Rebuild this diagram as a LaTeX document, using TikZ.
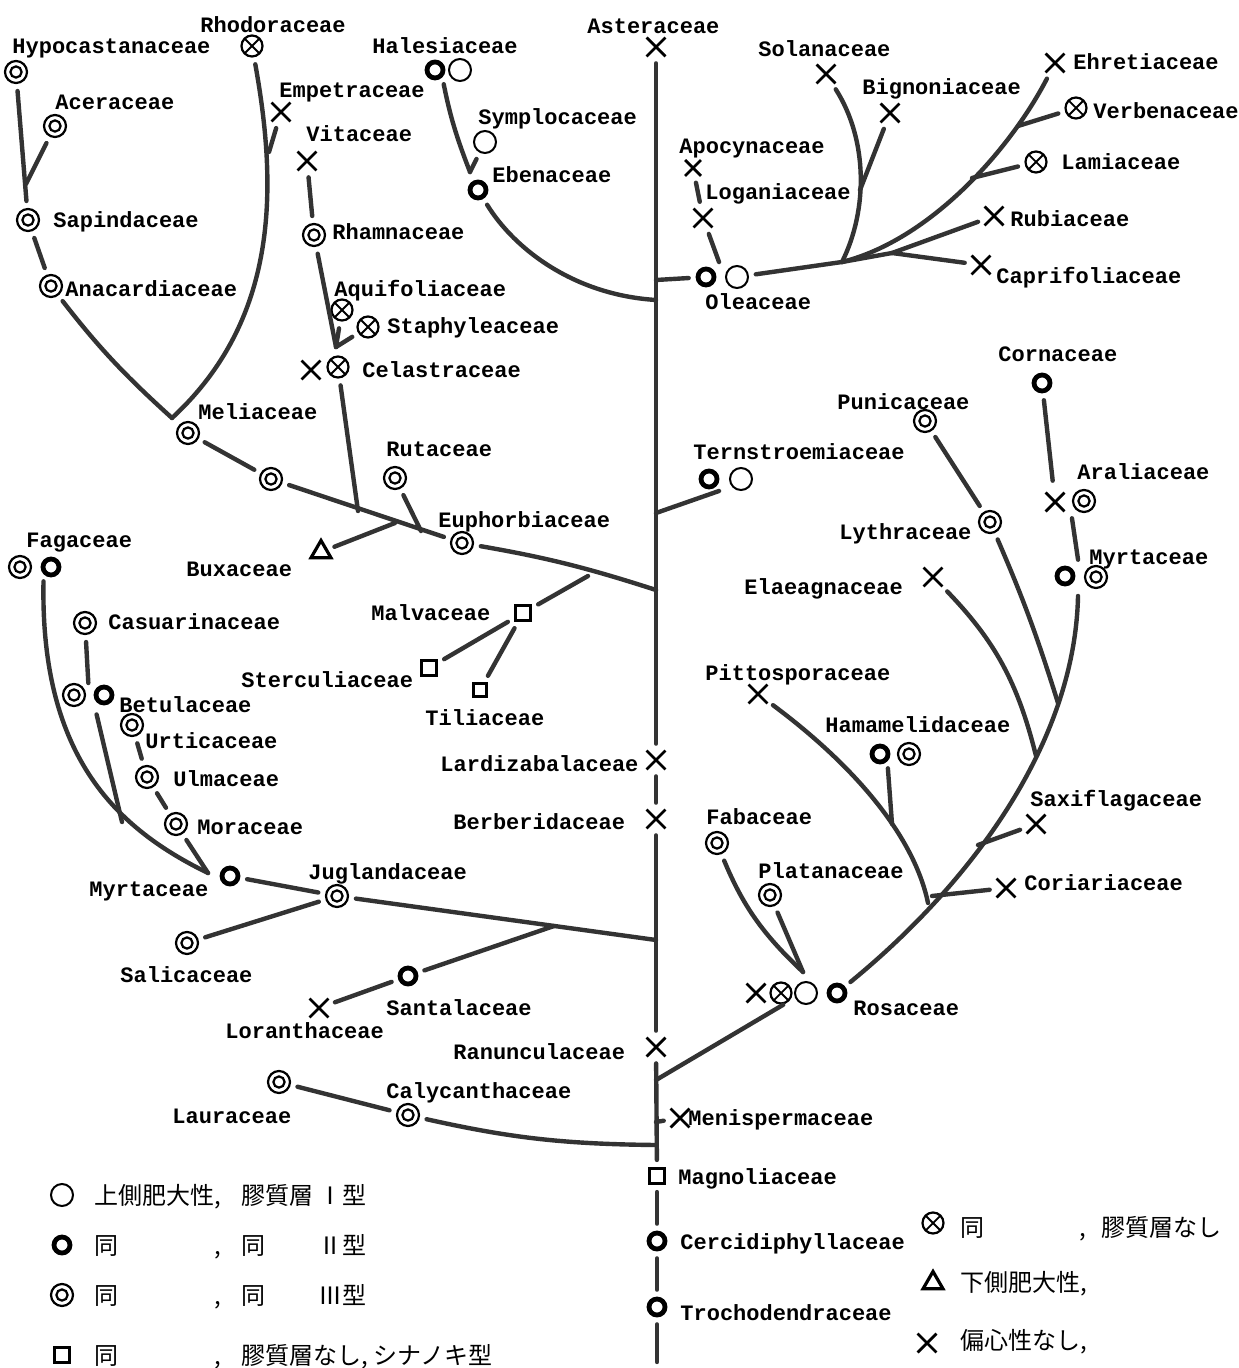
\documentclass[tikz,border=0pt]{standalone}
\usepackage{fontspec}
\setmonofont{Liberation Mono}
\newfontfamily\jp{Noto Sans CJK JP}
\usetikzlibrary{shapes.geometric,shapes.misc,calc}

\tikzset{
  tI/.style={circle, draw, line width=1pt, minimum size=11pt, inner sep=0pt},
  tII/.style={circle, draw, line width=2.4pt, minimum size=8pt, inner sep=0pt},
  tIII/.style={circle, draw, line width=1.1pt, minimum size=11pt, inner sep=0pt,
    path picture={\draw[line width=1.1pt] (path picture bounding box.center) circle (2.8pt);}},
  ox/.style={circle, draw, line width=1.1pt, minimum size=10.5pt, inner sep=0pt,
    path picture={\draw[line width=0.9pt] (path picture bounding box.north west) -- (path picture bounding box.south east)
      (path picture bounding box.north east) -- (path picture bounding box.south west);}},
  sq/.style={rectangle, draw, line width=1.6pt, minimum size=7.5pt, inner sep=0pt},
  tri/.style={regular polygon, regular polygon sides=3, draw, line width=1.6pt, minimum size=11.5pt, inner sep=0pt},
  nx/.style={cross out, draw, line width=1.4pt, minimum size=8pt, inner sep=0pt},
  br/.style={line width=2.2pt, draw=black!80, line cap=round},
  gs/.style={shorten <=3.5pt},
  ge/.style={shorten >=3.5pt},
  lab/.style={font=\ttfamily\bfseries\fontsize{11}{12}\selectfont, inner sep=0pt, anchor=west,
    text height=7pt, text depth=0pt},
  jtx/.style={font=\jp\fontsize{12}{14}\selectfont, inner sep=0pt, anchor=west,
    text height=9pt, text depth=0pt},
}

\begin{document}
\begin{tikzpicture}[x=0.5pt,y=-0.5pt]
\useasboundingbox (0,0) rectangle (1238,1368);

% trunk
\node[nx] (ast) at (656,47) {};
\node[nx] (lar) at (656,760) {};
\node[nx] (ber) at (656,819) {};
\node[nx] (ran) at (656,1047) {};
\node[nx] (men) at (680,1118) {};
\node[sq] (mag) at (657,1176) {};
\node[tII] (cer) at (657,1241) {};
\node[tII] (tro) at (657,1307) {};
\coordinate (tEnd) at (657,1362);

\node[lab] (Last) at (587,27) {Asteraceae};
\node[lab] (Llar) at (440,764) {Lardizabalaceae};
\node[lab] (Lber) at (453,822) {Berberidaceae};
\node[lab] (Lran) at (453,1052) {Ranunculaceae};
\node[lab] (Lmen) at (688,1118) {Menispermaceae};
\node[lab] (Lmag) at (678,1177) {Magnoliaceae};
\node[lab] (Lcer) at (680,1242) {Cercidiphyllaceae};
\node[lab] (Ltro) at (680,1313) {Trochodendraceae};

% upper left
\node[ox] (rho) at (252,46) {};
\node[tIII] (hyp) at (16,72) {};
\node[tIII] (ace) at (55,126) {};
\node[tIII] (sap) at (28,220) {};
\node[tIII] (ana) at (51,286) {};
\node[nx] (emp) at (281,112) {};
\node[nx] (vit) at (307,161) {};
\node[tIII] (rha) at (314,235) {};
\node[ox] (aqu) at (342,310) {};
\node[ox] (sta) at (368,327) {};
\node[nx] (celx) at (311,370) {};
\node[ox] (cel) at (338,367) {};
\node[tIII] (mel) at (188,433) {};
\node[tIII] (melb) at (271,479) {};
\node[tIII] (rut) at (395,478) {};
\node[tri] (bux) at (321,552) {};
\node[tIII] (eup) at (462,543) {};
\node[tII] (halA) at (435,70) {};
\node[tI] (halB) at (460,70) {};
\node[tI] (sym) at (485,142) {};
\node[tII] (ebe) at (478,190) {};
\node[sq] (mal) at (523,613) {};
\node[sq] (ste) at (429,668) {};
\node[sq, minimum size=6.5pt] (til) at (480,690) {};

\node[lab] (Lrho) at (200,26) {Rhodoraceae};
\node[lab] (Lhyp) at (12,47) {Hypocastanaceae};
\node[lab] (Lace) at (55,103) {Aceraceae};
\node[lab] (Lsap) at (53,221) {Sapindaceae};
\node[lab] (Lana) at (65,290) {Anacardiaceae};
\node[lab] (Lemp) at (279,91) {Empetraceae};
\node[lab] (Lvit) at (306,135) {Vitaceae};
\node[lab] (Lrha) at (332,233) {Rhamnaceae};
\node[lab] (Laqu) at (334,290) {Aquifoliaceae};
\node[lab] (Lsta) at (387,327) {Staphyleaceae};
\node[lab] (Lcel) at (362,371) {Celastraceae};
\node[lab] (Lmel) at (198,413) {Meliaceae};
\node[lab] (Lrut) at (386,450) {Rutaceae};
\node[lab] (Leup) at (438,520) {Euphorbiaceae};
\node[lab] (Lbux) at (186,569) {Buxaceae};
\node[lab] (Lhal) at (372,47) {Halesiaceae};
\node[lab] (Lsym) at (478,118) {Symplocaceae};
\node[lab] (Lebe) at (492,176) {Ebenaceae};
\node[lab] (Lmal) at (371,613) {Malvaceae};
\node[lab] (Lste) at (241,680) {Sterculiaceae};
\node[lab] (Ltil) at (425,718) {Tiliaceae};

% upper right
\node[nx] (sol) at (826,74) {};
\node[nx] (big) at (890,113) {};
\node[nx, minimum size=6.5pt] (apo) at (693,168) {};
\node[nx] (log) at (703,218) {};
\node[tII] (oleA) at (706,277) {};
\node[tI] (oleB) at (737,277) {};
\node[nx] (ehr) at (1055,63) {};
\node[ox] (ver) at (1076,108) {};
\node[ox] (lam) at (1036,162) {};
\node[nx] (rub) at (994,216) {};
\node[nx] (cap) at (981,265) {};

\node[lab] (Lsol) at (758,50) {Solanaceae};
\node[lab] (Lbig) at (862,88) {Bignoniaceae};
\node[lab] (Lapo) at (679,147) {Apocynaceae};
\node[lab] (Llog) at (705,193) {Loganiaceae};
\node[lab] (Lole) at (705,303) {Oleaceae};
\node[lab] (Lehr) at (1073,63) {Ehretiaceae};
\node[lab] (Lver) at (1093,112) {Verbenaceae};
\node[lab] (Llam) at (1061,163) {Lamiaceae};
\node[lab] (Lrub) at (1010,220) {Rubiaceae};
\node[lab] (Lcap) at (996,277) {Caprifoliaceae};

% middle right
\node[tII] (cor) at (1042,383) {};
\node[tIII] (pun) at (925,421) {};
\node[tII] (terA) at (709,479) {};
\node[tI] (terB) at (741,479) {};
\node[nx] (araX) at (1055,502) {};
\node[tIII] (ara) at (1084,501) {};
\node[tIII] (lyt) at (990,522) {};
\node[tII] (myrRA) at (1065,576) {};
\node[tIII] (myrRB) at (1096,577) {};
\node[nx] (ela) at (933,577) {};
\node[nx] (pit) at (758,694) {};
\node[tII] (hamA) at (880,754) {};
\node[tIII] (hamB) at (909,754) {};
\node[nx] (sax) at (1036,824) {};
\node[nx] (cori) at (1006,888) {};
\node[tIII] (fab) at (717,843) {};
\node[tIII] (pla) at (770,895) {};
\node[nx] (rosX) at (756,993) {};
\node[ox] (rosO) at (781,993) {};
\node[tI] (rosA) at (806,993) {};
\node[tII] (rosB) at (837,993) {};

\node[lab] (Lcor) at (998,355) {Cornaceae};
\node[lab] (Lpun) at (837,403) {Punicaceae};
\node[lab] (Lter) at (693,453) {Ternstroemiaceae};
\node[lab] (Lara) at (1077,473) {Araliaceae};
\node[lab] (Llyt) at (839,532) {Lythraceae};
\node[lab] (LmyrR) at (1089,557) {Myrtaceae};
\node[lab] (Lela) at (744,587) {Elaeagnaceae};
\node[lab] (Lpit) at (705,673) {Pittosporaceae};
\node[lab] (Lham) at (825,725) {Hamamelidaceae};
\node[lab] (Lsax) at (1030,799) {Saxiflagaceae};
\node[lab] (Lcori) at (1024,883) {Coriariaceae};
\node[lab] (Lfab) at (706,817) {Fabaceae};
\node[lab] (Lpla) at (758,871) {Platanaceae};
\node[lab] (Lros) at (853,1008) {Rosaceae};

% lower left
\node[tIII] (fag) at (20,567) {};
\node[tII] (fagB) at (51,567) {};
\node[tIII] (cas) at (85,623) {};
\node[tIII] (betA) at (74,695) {};
\node[tII] (betB) at (104,695) {};
\node[tIII] (urt) at (132,725) {};
\node[tIII] (ulm) at (147,777) {};
\node[tIII] (mor) at (176,824) {};
\node[tII] (myrL) at (230,876) {};
\node[tIII] (jug) at (337,896) {};
\node[tIII] (sal) at (187,943) {};
\node[tII] (san) at (408,976) {};
\node[nx] (lor) at (319,1008) {};
\node[tIII] (lau) at (279,1082) {};
\node[tIII] (cal) at (408,1115) {};

\node[lab] (Lfag) at (26,540) {Fagaceae};
\node[lab] (Lcas) at (108,622) {Casuarinaceae};
\node[lab] (Lbet) at (119,705) {Betulaceae};
\node[lab] (Lurt) at (145,741) {Urticaceae};
\node[lab] (Lulm) at (173,779) {Ulmaceae};
\node[lab] (Lmor) at (197,827) {Moraceae};
\node[lab] (LmyrL) at (89,889) {Myrtaceae};
\node[lab] (Ljug) at (308,872) {Juglandaceae};
\node[lab] (Lsal) at (120,975) {Salicaceae};
\node[lab] (Lsan) at (386,1008) {Santalaceae};
\node[lab] (Llor) at (225,1031) {Loranthaceae};
\node[lab] (Llau) at (172,1116) {Lauraceae};
\node[lab] (Lcal) at (386,1091) {Calycanthaceae};

% branch points
\coordinate (jAce) at (26,184);
\coordinate (jMel) at (172,418);
\coordinate (jEmp) at (269,152);
\coordinate (jCel) at (336,347);
\coordinate (jCelM) at (358,511);
\coordinate (jBux) at (395,523);
\coordinate (jRut) at (421,531);
\coordinate (jEup) at (656,590);
\coordinate (jMal) at (588,576);
\coordinate (jHal) at (470,172);
\coordinate (jEbe) at (656,300);
\coordinate (jOle) at (656,280);
\coordinate (oleT) at (719,262);
\coordinate (jFan) at (842,262);
\coordinate (jBig) at (860,190);
\coordinate (jVer) at (1018,126);
\coordinate (jLam) at (972,178);
\coordinate (jRub) at (892,253);
\coordinate (jTer) at (656,513);
\coordinate (terT) at (719,491);
\coordinate (myrRE) at (1078,596);
\coordinate (jLyt) at (1058,703);
\coordinate (jEla) at (1036,756);
\coordinate (jSax) at (978,845);
\coordinate (jCori) at (932,896);
\coordinate (jPit) at (928,903);
\coordinate (jHam) at (892,824);
\coordinate (jRos) at (803,972);
\coordinate (jRos2) at (656,1080);
\coordinate (jMyr) at (208,873);
\coordinate (jBet) at (122,822);
\coordinate (jJug) at (656,940);
\coordinate (jSan) at (554,926);
\coordinate (jCal) at (656,1145);
\coordinate (jMen) at (656,1122);

% trunk lines
\draw[br,gs,ge] (ast) -- (lar);
\draw[br,gs,ge] (lar) -- (ber);
\draw[br,gs,ge] (ber) -- (ran);
\draw[br,gs,ge] (ran) -- (mag);
\draw[br,gs,ge] (mag) -- (cer);
\draw[br,gs,ge] (cer) -- (tro);
\draw[br,gs] (tro) -- (tEnd);
\draw[br,ge] (jMen) -- (men);

% upper left lines
\draw[br,gs,ge] (hyp) -- (sap);
\draw[br,gs] (ace) -- (jAce);
\draw[br,gs,ge] (sap) -- (ana);
\draw[br,gs] (ana) to[bend right=5] (jMel);
\draw[br,gs] (rho) .. controls (278,190) and (278,320) .. (jMel);
\draw[br,gs] (emp) -- (jEmp);
\draw[br,gs,ge] (vit) -- (rha);
\draw[br,gs] (rha) -- (jCel);
\draw[br,gs] (aqu) -- (jCel);
\draw[br,gs] (sta) -- (jCel);
\draw[br,gs] (cel) -- (jCelM);
\draw[br,gs,ge] (mel) -- (melb);
\draw[br,gs,ge] (melb) -- (eup);
\draw[br,gs] (bux) -- (jBux);
\draw[br,gs] (rut) -- (jRut);
\draw[br,gs] (eup) to[bend left=4] (jEup);
\draw[br,gs] (mal) -- (jMal);
\draw[br,gs,ge] (ste) -- (mal);
\draw[br,gs,ge] (til) -- (mal);
\draw[br,gs] (halA.south east) to[bend right=5] (jHal);
\draw[br,gs] (sym) -- (jHal);
\draw[br,gs] (ebe) .. controls (515,250) and (575,295) .. (jEbe);

% upper right lines
\draw[br,ge] (jOle) -- (oleA);
\draw[br,gs,ge] (apo) -- (log);
\draw[br,gs] (log) -- (oleT);
\draw[br,gs] (oleB) -- (jFan);
\draw[br] (jFan) -- (jRub);
\draw[br,gs] (sol) .. controls (868,140) and (868,210) .. (jFan);
\draw[br,gs] (big) -- (jBig);
\draw[br,ge] (jFan) .. controls (930,240) and (1010,150) .. (ehr);
\draw[br,gs] (ver) -- (jVer);
\draw[br,gs] (lam) -- (jLam);
\draw[br,gs] (rub) -- (jRub);
\draw[br,gs] (cap) -- (jRub);

% middle right lines
\draw[br] (jTer) -- (terT);
\draw[br,gs,shorten >=6pt] (cor) -- (araX);
\draw[br,shorten <=8.5pt,shorten >=8.5pt] ($(araX)!0.5!(ara)$) -- ($(myrRA)!0.5!(myrRB)$);
\draw[br,ge] (myrRE) .. controls (1075,740) and (975,880) .. (rosB);
\draw[br,gs,ge] (pun) -- (lyt);
\draw[br,gs] (lyt) to[bend left=3] (jLyt);
\draw[br,gs] (ela) to[bend left=15] (jEla);
\draw[br,gs] (sax) -- (jSax);
\draw[br,gs] (cori) -- (jCori);
\draw[br,gs] (pit) .. controls (860,770) and (915,840) .. (jPit);
\draw[br,gs] (hamA.south east) -- (jHam);
\draw[br,gs] (fab) to[bend right=12] (jRos);
\draw[br,gs] (pla) -- (jRos);
\draw[br,gs] (rosO.south east) -- (jRos2);

% lower left lines
\draw[br,gs] (fagB.south west) .. controls (40,760) and (120,830) .. (jMyr);
\draw[br,gs,shorten >=6pt] (cas) -- ($(betA)!0.5!(betB)$);
\draw[br,shorten <=10pt] ($(betA)!0.6!(betB)$) -- (jBet);
\draw[br,gs,ge] (urt) -- (ulm);
\draw[br,gs,ge] (ulm) -- (mor);
\draw[br,gs] (mor) -- (jMyr);
\draw[br,gs,ge] (myrL) -- (jug);
\draw[br,gs] (jug) -- (jJug);
\draw[br,gs,ge] (sal) -- (jug);
\draw[br,gs] (san) -- (jSan);
\draw[br,gs,ge] (lor) -- (san);
\draw[br,gs,ge] (lau) -- (cal);
\draw[br,gs] (cal) to[bend right=6] (jCal);

% legend
\node[tI] (lg1) at (62,1195) {};
\node[jtx] (lt1a) at (94,1195) {上側肥大性,};
\node[jtx] (lt1b) at (241,1195) {膠質層};
\node[jtx] (lt1c) at (318,1195) {Ⅰ型};
\node[tII] (lg2) at (62,1245) {};
\node[jtx] (lt2a) at (94,1245) {同};
\node[jtx] (lt2b) at (214,1245) {,};
\node[jtx] (lt2c) at (241,1245) {同};
\node[jtx] (lt2d) at (318,1245) {Ⅱ型};
\node[tIII] (lg3) at (62,1295) {};
\node[jtx] (lt3a) at (94,1295) {同};
\node[jtx] (lt3b) at (214,1295) {,};
\node[jtx] (lt3c) at (241,1295) {同};
\node[jtx] (lt3d) at (318,1295) {Ⅲ型};
\node[sq] (lg4) at (62,1355) {};
\node[jtx] (lt4a) at (94,1355) {同};
\node[jtx] (lt4b) at (214,1355) {,};
\node[jtx] (lt4c) at (241,1355) {膠質層なし, シナノキ型};

\node[ox] (lg5) at (933,1223) {};
\node[jtx] (lt5a) at (960,1227) {同};
\node[jtx] (lt5b) at (1079,1227) {,};
\node[jtx] (lt5c) at (1101,1227) {膠質層なし};
\node[tri] (lg6) at (933,1283) {};
\node[jtx] (lt6) at (960,1282) {下側肥大性,};
\node[nx] (lg7) at (927,1343) {};
\node[jtx] (lt7) at (960,1340) {偏心性なし,};

\end{tikzpicture}
\end{document}
